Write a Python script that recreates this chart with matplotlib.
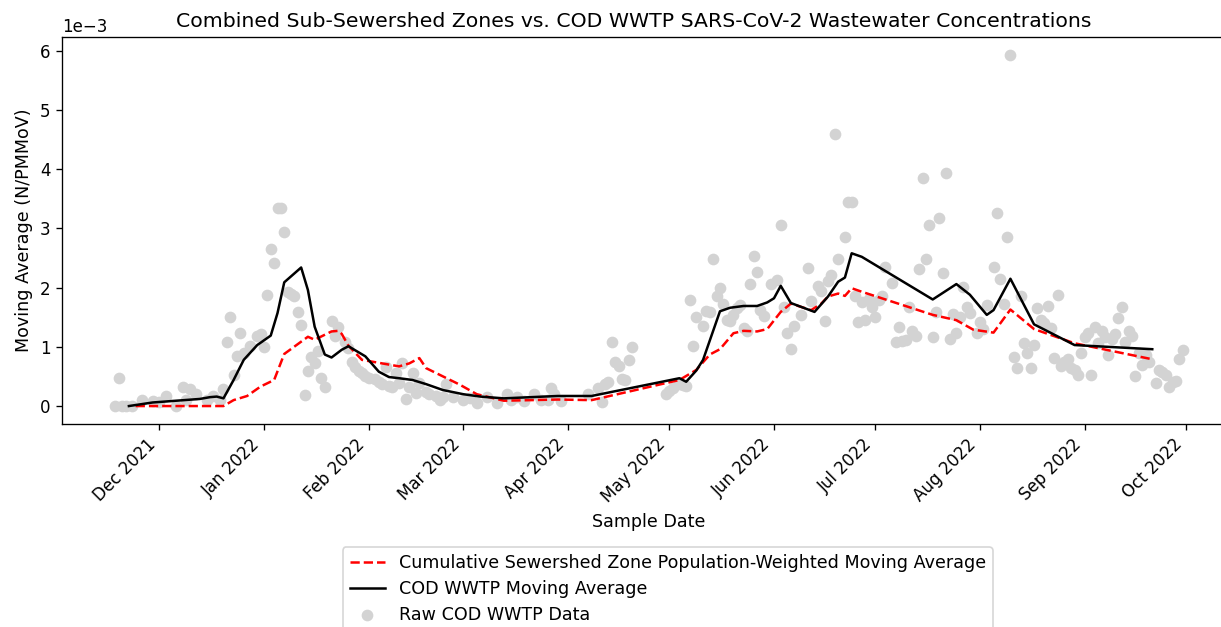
import numpy as np
import pandas as pd
import matplotlib
matplotlib.use('Agg')
import matplotlib.pyplot as plt
import matplotlib.dates as mdates

# raw COD WWTP samples (values in 1e-3 N/PMMoV)
raw_dates = [
    '2021-11-18', '2021-11-19', '2021-11-20', '2021-11-21', '2021-11-23', '2021-11-26', '2021-11-29',
    '2021-12-01', '2021-12-03', '2021-12-06', '2021-12-08', '2021-12-09', '2021-12-10', '2021-12-12',
    '2021-12-15', '2021-12-17', '2021-12-19', '2021-12-20', '2021-12-21', '2021-12-22', '2021-12-23',
    '2021-12-24', '2021-12-25', '2021-12-26', '2021-12-28', '2021-12-30', '2021-12-31',
    '2022-01-01', '2022-01-02', '2022-01-03', '2022-01-04', '2022-01-05', '2022-01-06', '2022-01-07',
    '2022-01-08', '2022-01-09', '2022-01-10', '2022-01-11', '2022-01-12', '2022-01-13', '2022-01-14',
    '2022-01-15', '2022-01-16', '2022-01-17', '2022-01-18', '2022-01-19', '2022-01-21', '2022-01-22',
    '2022-01-23', '2022-01-25', '2022-01-26', '2022-01-27', '2022-01-28', '2022-01-29', '2022-01-30',
    '2022-01-31', '2022-02-01', '2022-02-03', '2022-02-04', '2022-02-05', '2022-02-06', '2022-02-07',
    '2022-02-08', '2022-02-09', '2022-02-10', '2022-02-11', '2022-02-12', '2022-02-13', '2022-02-14',
    '2022-02-15', '2022-02-16', '2022-02-18', '2022-02-19', '2022-02-21', '2022-02-22', '2022-02-23',
    '2022-02-24', '2022-02-26', '2022-03-01', '2022-03-03', '2022-03-05', '2022-03-08', '2022-03-11',
    '2022-03-14', '2022-03-15', '2022-03-17', '2022-03-19', '2022-03-22', '2022-03-24', '2022-03-26',
    '2022-03-27', '2022-03-28', '2022-03-30', '2022-04-07', '2022-04-10', '2022-04-11', '2022-04-12',
    '2022-04-13', '2022-04-14', '2022-04-15', '2022-04-16', '2022-04-17', '2022-04-18', '2022-04-19',
    '2022-04-20', '2022-04-30', '2022-05-01', '2022-05-02', '2022-05-04', '2022-05-05', '2022-05-06',
    '2022-05-07', '2022-05-08', '2022-05-09', '2022-05-11', '2022-05-12', '2022-05-13', '2022-05-14',
    '2022-05-15', '2022-05-16', '2022-05-17', '2022-05-18', '2022-05-19', '2022-05-20', '2022-05-21',
    '2022-05-22', '2022-05-23', '2022-05-24', '2022-05-25', '2022-05-26', '2022-05-27', '2022-05-28',
    '2022-05-29', '2022-05-31', '2022-06-02', '2022-06-03', '2022-06-04', '2022-06-05', '2022-06-06',
    '2022-06-07', '2022-06-09', '2022-06-11', '2022-06-12', '2022-06-14', '2022-06-15', '2022-06-16',
    '2022-06-17', '2022-06-18', '2022-06-19', '2022-06-20', '2022-06-22', '2022-06-23', '2022-06-24',
    '2022-06-25', '2022-06-26', '2022-06-27', '2022-06-28', '2022-06-29', '2022-06-30', '2022-07-01',
    '2022-07-02', '2022-07-03', '2022-07-04', '2022-07-06', '2022-07-07', '2022-07-08', '2022-07-09',
    '2022-07-10', '2022-07-11', '2022-07-12', '2022-07-13', '2022-07-14', '2022-07-15', '2022-07-16',
    '2022-07-17', '2022-07-18', '2022-07-19', '2022-07-20', '2022-07-21', '2022-07-22', '2022-07-23',
    '2022-07-24', '2022-07-25', '2022-07-26', '2022-07-27', '2022-07-28', '2022-07-29', '2022-07-31',
    '2022-08-01', '2022-08-02', '2022-08-03', '2022-08-05', '2022-08-06', '2022-08-07', '2022-08-08',
    '2022-08-09', '2022-08-10', '2022-08-11', '2022-08-12', '2022-08-13', '2022-08-14', '2022-08-15',
    '2022-08-16', '2022-08-17', '2022-08-18', '2022-08-19', '2022-08-20', '2022-08-21', '2022-08-22',
    '2022-08-23', '2022-08-24', '2022-08-25', '2022-08-26', '2022-08-27', '2022-08-28', '2022-08-29',
    '2022-08-30', '2022-08-31', '2022-09-01', '2022-09-02', '2022-09-03', '2022-09-04', '2022-09-05',
    '2022-09-06', '2022-09-07', '2022-09-08', '2022-09-09', '2022-09-10', '2022-09-11', '2022-09-12',
    '2022-09-13', '2022-09-14', '2022-09-15', '2022-09-16', '2022-09-17', '2022-09-18', '2022-09-19',
    '2022-09-20', '2022-09-22', '2022-09-23', '2022-09-24', '2022-09-25', '2022-09-26', '2022-09-27',
    '2022-09-28', '2022-09-29', '2022-09-30',
]
raw_vals = [
    0.00, 0.48, 0.00, 0.00, 0.00, 0.10, 0.09,
    0.07, 0.17, 0.00, 0.32, 0.10, 0.29, 0.20,
    0.10, 0.17, 0.10, 0.29, 1.09, 1.50, 0.53,
    0.84, 1.23, 0.90, 1.01, 1.18, 1.21,
    1.00, 1.88, 2.66, 2.41, 3.34, 3.34, 2.94,
    1.93, 1.90, 1.86, 1.58, 1.37, 0.19, 0.59,
    0.82, 0.72, 0.93, 0.48, 0.32, 1.44, 1.18,
    1.34, 1.08, 0.98, 0.75, 0.66, 0.60, 0.55,
    0.51, 0.48, 0.45, 0.41, 0.37, 0.66, 0.34,
    0.32, 0.55, 0.39, 0.72, 0.12, 0.32, 0.56,
    0.22, 0.39, 0.24, 0.21, 0.17, 0.11, 0.16,
    0.38, 0.16, 0.10, 0.13, 0.05, 0.16, 0.05,
    0.21, 0.10, 0.16, 0.09, 0.21, 0.10, 0.11,
    0.30, 0.21, 0.09, 0.21, 0.30, 0.07, 0.38,
    0.41, 1.08, 0.75, 0.67, 0.45, 0.44, 0.78,
    0.99, 0.21, 0.26, 0.30, 0.38, 0.35, 0.34,
    1.79, 1.01, 1.50, 1.35, 1.61, 1.59, 2.49,
    1.86, 1.99, 1.72, 1.46, 1.44, 1.54, 1.65,
    1.71, 1.31, 1.26, 2.06, 2.54, 2.26, 1.62,
    1.52, 2.06, 2.13, 3.05, 1.67, 1.23, 0.96,
    1.35, 1.54, 2.33, 1.78, 2.02, 1.95, 1.44,
    2.12, 2.22, 4.59, 2.48, 2.86, 3.45, 3.45,
    1.86, 1.42, 1.76, 1.46, 1.80, 1.68, 1.50,
    1.79, 1.86, 2.35, 2.08, 1.09, 1.33, 1.10,
    1.11, 1.68, 1.27, 1.18, 2.32, 3.85, 2.49,
    3.05, 1.16, 1.58, 3.17, 2.24, 3.94, 1.13,
    1.55, 1.23, 1.51, 2.01, 1.67, 1.57, 1.24,
    1.42, 1.30, 1.71, 2.34, 3.26, 2.15, 1.73,
    2.86, 5.93, 0.83, 0.65, 1.86, 1.07, 0.90,
    0.64, 1.03, 1.65, 1.46, 1.41, 1.69, 1.31,
    0.81, 1.88, 0.68, 0.75, 0.80, 0.64, 0.61,
    0.52, 0.89, 1.17, 1.23, 0.52, 1.33, 1.06,
    1.27, 1.17, 0.86, 1.14, 1.22, 1.48, 1.67,
    1.09, 1.26, 1.18, 0.51, 0.89, 0.69, 0.86,
    0.75, 0.39, 0.61, 0.58, 0.52, 0.32, 0.41,
    0.43, 0.80, 0.95,
]

# COD WWTP moving average
wwtp_dates = [
    '2021-11-22', '2021-11-29', '2021-12-06', '2021-12-13', '2021-12-16', '2021-12-18', '2021-12-20',
    '2021-12-23', '2021-12-26', '2021-12-30', '2022-01-03', '2022-01-05', '2022-01-07', '2022-01-12',
    '2022-01-14', '2022-01-16', '2022-01-19', '2022-01-21', '2022-01-24', '2022-01-26', '2022-01-31',
    '2022-02-04', '2022-02-07', '2022-02-10', '2022-02-14', '2022-02-18', '2022-02-23', '2022-03-01',
    '2022-03-06', '2022-03-13', '2022-03-29', '2022-04-08', '2022-05-04', '2022-05-06', '2022-05-09',
    '2022-05-11', '2022-05-16', '2022-05-19', '2022-05-23', '2022-05-27', '2022-05-30', '2022-06-01',
    '2022-06-03', '2022-06-06', '2022-06-13', '2022-06-17', '2022-06-20', '2022-06-22', '2022-06-24',
    '2022-06-27', '2022-07-18', '2022-07-25', '2022-07-29', '2022-08-03', '2022-08-05', '2022-08-10',
    '2022-08-17', '2022-08-29', '2022-09-21',
]
wwtp_ma = [
    0.00, 0.06, 0.09, 0.12, 0.15, 0.16, 0.13,
    0.44, 0.78, 1.03, 1.19, 1.57, 2.09, 2.34,
    1.96, 1.34, 0.87, 0.82, 0.95, 1.01, 0.84,
    0.58, 0.49, 0.47, 0.44, 0.37, 0.27, 0.20,
    0.16, 0.13, 0.17, 0.17, 0.47, 0.41, 0.60,
    0.78, 1.60, 1.66, 1.69, 1.69, 1.75, 1.82,
    2.03, 1.74, 1.59, 1.85, 2.10, 2.17, 2.58,
    2.52, 1.80, 2.06, 1.88, 1.54, 1.62, 2.15,
    1.38, 1.03, 0.96,
]

# cumulative sewershed zone population-weighted moving average
zone_dates = [
    '2021-11-24', '2021-12-20', '2021-12-23', '2021-12-27', '2021-12-31', '2022-01-04', '2022-01-07',
    '2022-01-14', '2022-01-16', '2022-01-21', '2022-01-23', '2022-01-24', '2022-01-26', '2022-01-30',
    '2022-02-10', '2022-02-13', '2022-02-16', '2022-02-18', '2022-02-28', '2022-03-05', '2022-03-13',
    '2022-03-21', '2022-03-29', '2022-04-08', '2022-05-04', '2022-05-09', '2022-05-13', '2022-05-16',
    '2022-05-20', '2022-05-23', '2022-05-27', '2022-05-30', '2022-06-03', '2022-06-06', '2022-06-12',
    '2022-06-15', '2022-06-17', '2022-06-20', '2022-06-22', '2022-06-24', '2022-06-27', '2022-07-18',
    '2022-07-25', '2022-07-30', '2022-08-05', '2022-08-10', '2022-08-17', '2022-08-29', '2022-09-21',
]
zone_ma = [
    0.00, 0.00, 0.10, 0.17, 0.33, 0.44, 0.88,
    1.17, 1.12, 1.26, 1.27, 1.22, 1.02, 0.78,
    0.67, 0.72, 0.81, 0.64, 0.36, 0.20, 0.09,
    0.10, 0.11, 0.10, 0.44, 0.61, 0.87, 0.96,
    1.23, 1.27, 1.26, 1.30, 1.59, 1.73, 1.62,
    1.73, 1.85, 1.90, 1.86, 1.99, 1.93, 1.54,
    1.45, 1.29, 1.24, 1.63, 1.30, 1.06, 0.79,
]

scale = 1e-3

fig = plt.figure(figsize=(1221 / 120, 627 / 120), dpi=120)
ax = fig.add_axes([0.0508, 0.3244, 0.9615, 0.616])

ax.plot(pd.to_datetime(zone_dates), np.array(zone_ma) * scale, color='red', linestyle='--',
        label='Cumulative Sewershed Zone Population-Weighted Moving Average')
ax.plot(pd.to_datetime(wwtp_dates), np.array(wwtp_ma) * scale, color='black',
        label='COD WWTP Moving Average')
ax.scatter(pd.to_datetime(raw_dates), np.array(raw_vals) * scale, color='lightgray',
           label='Raw COD WWTP Data')

ax.xaxis.set_major_locator(mdates.MonthLocator())
ax.xaxis.set_major_formatter(mdates.DateFormatter('%b %Y'))
plt.setp(ax.get_xticklabels(), rotation=45, ha='right')
ax.ticklabel_format(axis='y', style='sci', scilimits=(0, 0))

ax.set_title('Combined Sub-Sewershed Zones vs. COD WWTP SARS-CoV-2 Wastewater Concentrations',
             fontsize=12.2, x=0.487)
ax.set_xlabel('Sample Date', fontsize=10.5)
ax.set_ylabel('Moving Average (N/PMMoV)', fontsize=10.5)

ax.legend(loc='upper center', bbox_to_anchor=(0.547, 0.141), bbox_transform=fig.transFigure,
          fontsize=10.5, labelspacing=0.45)

fig.savefig('out.png', dpi=120)
